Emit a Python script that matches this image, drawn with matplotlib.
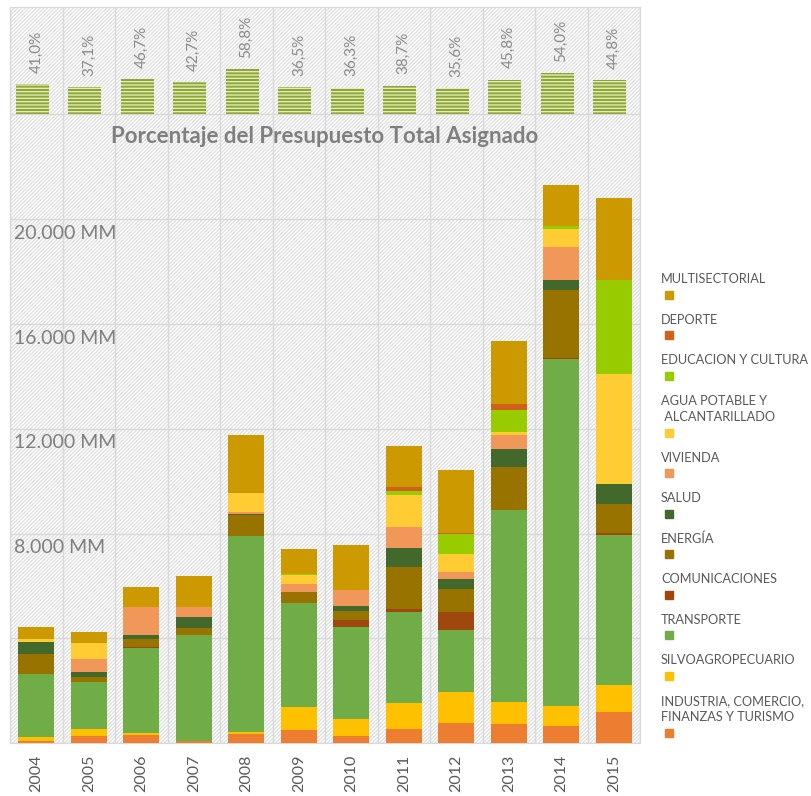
import numpy as np
import matplotlib.pyplot as plt
from matplotlib.patches import Rectangle

plt.rcParams['font.family'] = ['Lato', 'DejaVu Sans']
plt.rcParams['hatch.linewidth'] = 1.0

# Données (millions)
years = ['2004', '2005', '2006', '2007', '2008', '2009',
         '2010', '2011', '2012', '2013', '2014', '2015']
industria = [76, 280, 316, 76, 345, 498, 279, 536, 766, 727, 661, 1196]
silvo = [150, 255, 65, 0, 76, 903, 640, 995, 1209, 865, 774, 1041]
transporte = [2425, 1815, 3260, 4050, 7503, 3958, 3506, 3468, 2335, 7327, 13226, 5713]
comunicaciones = [0, 0, 50, 0, 0, 0, 295, 142, 716, 0, 42, 70]
energia = [750, 190, 280, 280, 789, 421, 344, 1596, 881, 1631, 2589, 1126]
salud = [470, 190, 150, 410, 53, 0, 192, 701, 371, 678, 380, 759]
vivienda = [0, 495, 1080, 390, 50, 307, 586, 830, 268, 535, 1280, 0]
agua = [100, 610, 0, 0, 754, 317, 0, 1225, 689, 115, 676, 4179]
educacion = [0, 0, 0, 0, 0, 39, 0, 154, 766, 843, 112, 3588]
deporte = [0, 0, 0, 0, 0, 0, 0, 153, 30, 229, 0, 0]
multisectorial = [457, 407, 750, 1170, 2193, 983, 1722, 1554, 2396, 2400, 1562, 3138]

porcentaje = [41.0, 37.1, 46.7, 42.7, 58.8, 36.5, 36.3, 38.7, 35.6, 45.8, 54.0, 44.8]

sectores = ['INDUSTRIA, COMERCIO,\nFINANZAS Y TURISMO', 'SILVOAGROPECUARIO', 'TRANSPORTE',
            'COMUNICACIONES', 'ENERGÍA', 'SALUD', 'VIVIENDA',
            'AGUA POTABLE Y\n ALCANTARILLADO', 'EDUCACION Y CULTURA', 'DEPORTE', 'MULTISECTORIAL']
series = [industria, silvo, transporte, comunicaciones, energia, salud, vivienda,
          agua, educacion, deporte, multisectorial]
couleurs = ['#ED7D31', '#FFC000', '#70AD47', '#9E480E', '#997300', '#43682B',
            '#F1975A', '#FFCD33', '#99CC00', '#D0601A', '#CC9900']

W, H = 811, 796
fig = plt.figure(figsize=(W / 100, H / 100), dpi=100)
ax = fig.add_axes([10 / W, 1 - 743.3 / H, 630 / W, 736.3 / H])

# fond hachuré
ax.patch.set_facecolor('white')
ax.patch.set_hatch('/////////')
ax.patch.set_edgecolor('#e1e1e1')

x = np.arange(len(years))
bas = np.zeros(len(years))
for vals, c in zip(series, couleurs):
    ax.bar(x, vals, bottom=bas, width=0.68, color=c, zorder=3)
    bas += np.array(vals)

ax.set_xlim(-0.5, 11.5)
ax.set_ylim(0, 28100)
ax.set_yticks(np.arange(0, 24001, 4000))
ax.set_yticklabels([])
ax.set_xticks(x)
ax.set_xticklabels(years, rotation=90, fontsize=11.5, color='#595959')
ax.set_xticks(np.arange(-0.5, 12, 1), minor=True)
ax.tick_params(axis='both', which='both', length=0)
ax.tick_params(axis='x', pad=8)
ax.grid(axis='y', which='major', color='#d9d9d9', linewidth=1, zorder=1)
ax.grid(axis='x', which='minor', color='#d9d9d9', linewidth=1, zorder=1)
ax.grid(axis='x', which='major', visible=False)
for s in ax.spines.values():
    s.set_color('#d9d9d9')

# étiquettes de l'axe y à l'intérieur du graphique
for v in [8000, 12000, 16000, 20000]:
    ax.annotate(f"{v:,}".replace(',', '.') + ' MM', xy=(0, v),
                xycoords=ax.get_yaxis_transform(), xytext=(3, -4),
                textcoords='offset points', ha='left', va='top',
                fontsize=14, color='#7f7f7f', zorder=2)

# bande supérieure : pourcentage du budget total
pax = ax.inset_axes([0, 24000, 1, 4100], transform=ax.get_yaxis_transform())
pax.set_xlim(-0.5, 11.5)
pax.set_ylim(4.3, 132.3)
pax.axis('off')
pax.patch.set_alpha(0)
pax.bar(x - 0.08, porcentaje, width=0.63, color='#8ba63a', edgecolor='#e4ecb2',
        hatch='-----', linewidth=0)
for xi, p in zip(x, porcentaje):
    pax.annotate(f"{p:.1f}%".replace('.', ','), xy=(xi, p), xytext=(0, 8),
                 textcoords='offset points', rotation=90, ha='center', va='bottom',
                 fontsize=11, color='#8a8a8a')

ax.text(0.5, 23150, 'Porcentaje del Presupuesto Total Asignado',
        transform=ax.get_yaxis_transform(), ha='center', va='center',
        fontsize=16, fontweight='bold', color='#7f7f7f', zorder=4)

# légende à droite
y = 279
for nom, c in zip(sectores[::-1], couleurs[::-1]):
    lignes = nom.split('\n')
    for i, l in enumerate(lignes):
        fig.text(661 / W, 1 - y / H, l, ha='left', va='center', fontsize=9.2, color='#595959')
        if i < len(lignes) - 1:
            y += 16.7
    y += 15.7
    fig.add_artist(Rectangle((665 / W, 1 - (y + 4) / H), 8 / W, 8 / H,
                             transform=fig.transFigure, color=c))
    y += 24.8

plt.savefig('out.png', dpi=100)
